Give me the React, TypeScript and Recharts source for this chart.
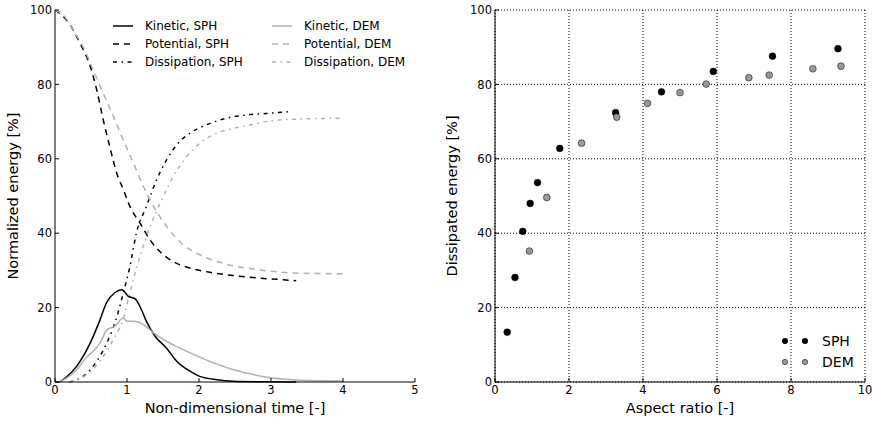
import React from "react";
import { LineChart, Line, ScatterChart, Scatter, XAxis, YAxis, CartesianGrid } from "recharts";

// time traces (non-dimensional time, % energy)
const kineticSPH = [
  { t: 0, v: 0 }, { t: 0.05, v: 0 }, { t: 0.15, v: 1.2 }, { t: 0.3, v: 4.2 }, { t: 0.49, v: 10.5 },
  { t: 0.625, v: 16.7 }, { t: 0.72, v: 21.5 }, { t: 0.83, v: 24 }, { t: 0.93, v: 24.8 }, { t: 1.02, v: 23 },
  { t: 1.11, v: 22.4 }, { t: 1.18, v: 20.3 }, { t: 1.27, v: 16.3 }, { t: 1.39, v: 12.3 }, { t: 1.55, v: 9.1 },
  { t: 1.69, v: 5.6 }, { t: 1.875, v: 2.9 }, { t: 2.01, v: 1.5 }, { t: 2.25, v: 0.6 }, { t: 2.48, v: 0.2 },
  { t: 2.94, v: 0.05 }, { t: 3.35, v: 0 },
];
const kineticDEM = [
  { t: 0, v: 0 }, { t: 0.05, v: 0 }, { t: 0.15, v: 0.9 }, { t: 0.3, v: 3.3 }, { t: 0.45, v: 6.9 },
  { t: 0.53, v: 8.2 }, { t: 0.625, v: 10.5 }, { t: 0.72, v: 14 }, { t: 0.83, v: 15 }, { t: 0.95, v: 17.2 },
  { t: 1.0, v: 16.3 }, { t: 1.09, v: 16.3 }, { t: 1.23, v: 15.4 }, { t: 1.37, v: 13.2 }, { t: 1.55, v: 10.9 },
  { t: 1.78, v: 8.7 }, { t: 2.01, v: 6.7 }, { t: 2.25, v: 4.8 }, { t: 2.48, v: 3.3 }, { t: 2.71, v: 2.2 },
  { t: 2.94, v: 1.3 }, { t: 3.17, v: 0.8 }, { t: 3.4, v: 0.5 }, { t: 4.0, v: 0.3 },
];
const potentialSPH = [
  { t: 0, v: 100 }, { t: 0.16, v: 97.3 }, { t: 0.35, v: 91 }, { t: 0.49, v: 84.8 }, { t: 0.58, v: 78.5 },
  { t: 0.67, v: 70.5 }, { t: 0.76, v: 63.3 }, { t: 0.86, v: 56 }, { t: 0.95, v: 51.7 }, { t: 1.04, v: 47.2 },
  { t: 1.18, v: 42.7 }, { t: 1.32, v: 38.2 }, { t: 1.46, v: 35 }, { t: 1.64, v: 32.4 }, { t: 1.875, v: 30.6 },
  { t: 2.15, v: 29.5 }, { t: 2.48, v: 28.6 }, { t: 2.85, v: 27.9 }, { t: 3.17, v: 27.5 }, { t: 3.35, v: 27.2 },
];
const potentialDEM = [
  { t: 0, v: 100 }, { t: 0.12, v: 98.6 }, { t: 0.25, v: 94.6 }, { t: 0.39, v: 90.1 }, { t: 0.53, v: 83.9 },
  { t: 0.67, v: 77.6 }, { t: 0.81, v: 71.4 }, { t: 0.95, v: 65 }, { t: 1.09, v: 58.8 }, { t: 1.23, v: 52.5 },
  { t: 1.37, v: 47.2 }, { t: 1.55, v: 41.8 }, { t: 1.78, v: 36.9 }, { t: 2.01, v: 34.2 }, { t: 2.25, v: 32.4 },
  { t: 2.48, v: 31.2 }, { t: 2.71, v: 30.5 }, { t: 2.94, v: 29.9 }, { t: 3.31, v: 29.3 }, { t: 4.0, v: 29.1 },
];
const dissipationSPH = [
  { t: 0.2, v: 0 }, { t: 0.39, v: 1.5 }, { t: 0.58, v: 5.6 }, { t: 0.72, v: 10.5 }, { t: 0.86, v: 17.6 },
  { t: 0.95, v: 24 }, { t: 1.04, v: 31 }, { t: 1.13, v: 40 }, { t: 1.27, v: 47.2 }, { t: 1.41, v: 54.3 },
  { t: 1.55, v: 59.7 }, { t: 1.69, v: 63.7 }, { t: 1.875, v: 66.9 }, { t: 2.1, v: 69.1 }, { t: 2.38, v: 70.9 },
  { t: 2.66, v: 71.8 }, { t: 2.94, v: 72.2 }, { t: 3.29, v: 72.7 },
];
const dissipationDEM = [
  { t: 0.2, v: 0 }, { t: 0.44, v: 2 }, { t: 0.625, v: 5.6 }, { t: 0.81, v: 11.4 }, { t: 0.95, v: 17.2 },
  { t: 1.04, v: 24 }, { t: 1.18, v: 33.8 }, { t: 1.32, v: 41.8 }, { t: 1.46, v: 48 }, { t: 1.64, v: 55.2 },
  { t: 1.83, v: 60.6 }, { t: 2.01, v: 64.2 }, { t: 2.25, v: 66.9 }, { t: 2.48, v: 68.2 }, { t: 2.71, v: 69.1 },
  { t: 3.03, v: 70.3 }, { t: 3.4, v: 70.7 }, { t: 3.96, v: 70.9 },
];

// aspect ratio vs dissipated energy
const scatterSPH = [
  { ar: 0.33, e: 13.4 }, { ar: 0.54, e: 28.1 }, { ar: 0.75, e: 40.5 }, { ar: 0.95, e: 48 },
  { ar: 1.15, e: 53.6 }, { ar: 1.75, e: 62.8 }, { ar: 3.26, e: 72.4 }, { ar: 4.5, e: 78 },
  { ar: 5.9, e: 83.5 }, { ar: 7.5, e: 87.6 }, { ar: 9.27, e: 89.6 },
];
const scatterDEM = [
  { ar: 0.93, e: 35.2 }, { ar: 1.4, e: 49.6 }, { ar: 2.34, e: 64.2 }, { ar: 3.29, e: 71.2 },
  { ar: 4.12, e: 74.9 }, { ar: 5.0, e: 77.8 }, { ar: 5.71, e: 80.1 }, { ar: 6.86, e: 81.8 },
  { ar: 7.41, e: 82.5 }, { ar: 8.59, e: 84.2 }, { ar: 9.35, e: 84.9 },
];

const timeTicks = [0, 1, 2, 3, 4, 5];
const energyTicks = [0, 20, 40, 60, 80, 100];
const ratioTicks = [0, 2, 4, 6, 8, 10];

const FONT = "DejaVu Sans";
const GRAY = "#b0b0b0";
const DASHED = "6 5";
const DASHDOT = "4 4.5 1.5 4.5";

const lineLegend = [
  { label: "Kinetic, SPH", color: "#000", dash: undefined },
  { label: "Potential, SPH", color: "#000", dash: DASHED },
  { label: "Dissipation, SPH", color: "#000", dash: DASHDOT },
  { label: "Kinetic, DEM", color: GRAY, dash: undefined },
  { label: "Potential, DEM", color: GRAY, dash: DASHED },
  { label: "Dissipation, DEM", color: GRAY, dash: DASHDOT },
];

// inward ticks, matplotlib style
const BottomTick = (props: any) => {
  const { x, y, payload } = props;
  return (
    <g>
      <line x1={x} y1={y} x2={x} y2={y - 4} stroke="#000" />
      <text x={x} y={y + 4} dy="0.71em" textAnchor="middle" fontFamily={FONT} fontSize={11.5} fill="#000">
        {payload.value}
      </text>
    </g>
  );
};
const LeftTick = (props: any) => {
  const { x, y, payload } = props;
  return (
    <g>
      <line x1={x} y1={y} x2={x + 4} y2={y} stroke="#000" />
      <text x={x - 3} y={y} dy="0.36em" textAnchor="end" fontFamily={FONT} fontSize={11.5} fill="#000">
        {payload.value}
      </text>
    </g>
  );
};
const TopTick = (props: any) => (
  <line x1={props.x} y1={props.y} x2={props.x} y2={props.y + 4} stroke="#000" />
);
const RightTick = (props: any) => (
  <line x1={props.x} y1={props.y} x2={props.x - 4} y2={props.y} stroke="#000" />
);

const axisText = (x: number, y: number, text: string, vertical: boolean) => () =>
  (
    <text
      x={x}
      y={y}
      textAnchor="middle"
      fontFamily={FONT}
      fontSize={14.5}
      fill="#000"
      transform={vertical ? `rotate(-90 ${x} ${y})` : undefined}
    >
      {text}
    </text>
  );

const EnergyLegend = () => (
  <svg width={320} height={60} style={{ position: "absolute", left: 113, top: 26, overflow: "visible" }}>
    {lineLegend.map((item, i) => {
      const col = Math.floor(i / 3);
      const row = i % 3;
      const lx = col * 159;
      const ly = row * 18;
      return (
        <g key={item.label}>
          <line x1={lx} y1={ly} x2={lx + 20} y2={ly} stroke={item.color} strokeWidth={1.5} strokeDasharray={item.dash} />
          <text x={lx + 32} y={ly} dy="0.36em" fontFamily={FONT} fontSize={12} fill="#000">
            {item.label}
          </text>
        </g>
      );
    })}
  </svg>
);

const RatioLegend = () => (
  <svg width={80} height={40} style={{ position: "absolute", left: 349, top: 341, overflow: "visible" }}>
    <circle cx={0} cy={0} r={3} fill="#000" />
    <circle cx={20} cy={0} r={3} fill="#000" />
    <text x={37} y={0} dy="0.36em" fontFamily={FONT} fontSize={14} fill="#000">SPH</text>
    <circle cx={0} cy={21} r={2.7} fill="#999" stroke="#000" strokeWidth={0.5} />
    <circle cx={20} cy={21} r={2.7} fill="#999" stroke="#000" strokeWidth={0.5} />
    <text x={37} y={21} dy="0.36em" fontFamily={FONT} fontSize={14} fill="#000">DEM</text>
  </svg>
);

const DotShape = (fill: string) => (props: any) =>
  <circle cx={props.cx} cy={props.cy} r={3.4} fill={fill} stroke="#000" strokeWidth={0.5} />;

export default function App() {
  return (
    <div style={{ position: "absolute", left: 0, top: 0, width: 872, height: 423, background: "#fff", overflow: "hidden" }}>
      <style>{`.recharts-surface { overflow: visible; }`}</style>
      <div style={{ position: "absolute", left: 0, top: 0, width: 436, height: 423 }}>
        <LineChart width={436} height={423} margin={{ top: 10, right: 21, bottom: 0, left: 10 }}>
          <XAxis
            dataKey="t"
            type="number"
            domain={[0, 5]}
            ticks={timeTicks}
            interval={0}
            tick={<BottomTick />}
            tickLine={false}
            tickSize={0}
            tickMargin={0}
            height={41}
            axisLine={{ stroke: "#000" }}
            allowDuplicatedCategory={false}
            label={{ content: axisText(235, 413, "Non-dimensional time [-]", false) }}
          />
          <XAxis xAxisId="top" orientation="top" type="number" domain={[0, 5]} ticks={timeTicks} interval={0} tick={<TopTick />}
            tickLine={false} tickSize={0} tickMargin={0} height={0} axisLine={{ stroke: "#000" }} />
          <YAxis
            type="number"
            domain={[0, 100]}
            ticks={energyTicks}
            interval={0}
            tick={<LeftTick />}
            tickLine={false}
            tickSize={0}
            tickMargin={0}
            width={45}
            axisLine={{ stroke: "#000" }}
            label={{ content: axisText(18, 196, "Normalized energy [%]", true) }}
          />
          <YAxis yAxisId="right" orientation="right" type="number" domain={[0, 100]} ticks={energyTicks} interval={0}
            tick={<RightTick />} tickLine={false} tickSize={0} tickMargin={0} width={0} axisLine={{ stroke: "#000" }} />
          <Line data={kineticSPH} dataKey="v" type="monotone" stroke="#000" strokeWidth={1.5} dot={false} isAnimationActive={false} />
          <Line data={potentialSPH} dataKey="v" type="monotone" stroke="#000" strokeWidth={1.5} strokeDasharray={DASHED} dot={false} isAnimationActive={false} />
          <Line data={dissipationSPH} dataKey="v" type="monotone" stroke="#000" strokeWidth={1.5} strokeDasharray={DASHDOT} dot={false} isAnimationActive={false} />
          <Line data={kineticDEM} dataKey="v" type="monotone" stroke={GRAY} strokeWidth={1.5} dot={false} isAnimationActive={false} />
          <Line data={potentialDEM} dataKey="v" type="monotone" stroke={GRAY} strokeWidth={1.5} strokeDasharray={DASHED} dot={false} isAnimationActive={false} />
          <Line data={dissipationDEM} dataKey="v" type="monotone" stroke={GRAY} strokeWidth={1.5} strokeDasharray={DASHDOT} dot={false} isAnimationActive={false} />
        </LineChart>
        <EnergyLegend />
      </div>

      <div style={{ position: "absolute", left: 436, top: 0, width: 436, height: 423 }}>
        <ScatterChart width={436} height={423} margin={{ top: 10, right: 7, bottom: 0, left: 14 }}>
          <CartesianGrid stroke="#000" strokeDasharray="1 2" />
          <XAxis
            dataKey="ar"
            type="number"
            domain={[0, 10]}
            ticks={ratioTicks}
            interval={0}
            tick={<BottomTick />}
            tickLine={false}
            tickSize={0}
            tickMargin={0}
            height={41}
            axisLine={{ stroke: "#000" }}
            label={{ content: axisText(244, 413, "Aspect ratio [-]", false) }}
          />
          <XAxis xAxisId="top" orientation="top" type="number" domain={[0, 10]} ticks={ratioTicks} interval={0} tick={<TopTick />}
            tickLine={false} tickSize={0} tickMargin={0} height={0} axisLine={{ stroke: "#000" }} />
          <YAxis
            dataKey="e"
            type="number"
            domain={[0, 100]}
            ticks={energyTicks}
            interval={0}
            tick={<LeftTick />}
            tickLine={false}
            tickSize={0}
            tickMargin={0}
            width={45}
            axisLine={{ stroke: "#000" }}
            label={{ content: axisText(21, 196, "Dissipated energy [%]", true) }}
          />
          <YAxis yAxisId="right" orientation="right" type="number" domain={[0, 100]} ticks={energyTicks} interval={0}
            tick={<RightTick />} tickLine={false} tickSize={0} tickMargin={0} width={0} axisLine={{ stroke: "#000" }} />
          <Scatter data={scatterSPH} shape={DotShape("#000")} isAnimationActive={false} />
          <Scatter data={scatterDEM} shape={DotShape("#999")} isAnimationActive={false} />
        </ScatterChart>
        <RatioLegend />
      </div>
    </div>
  );
}
